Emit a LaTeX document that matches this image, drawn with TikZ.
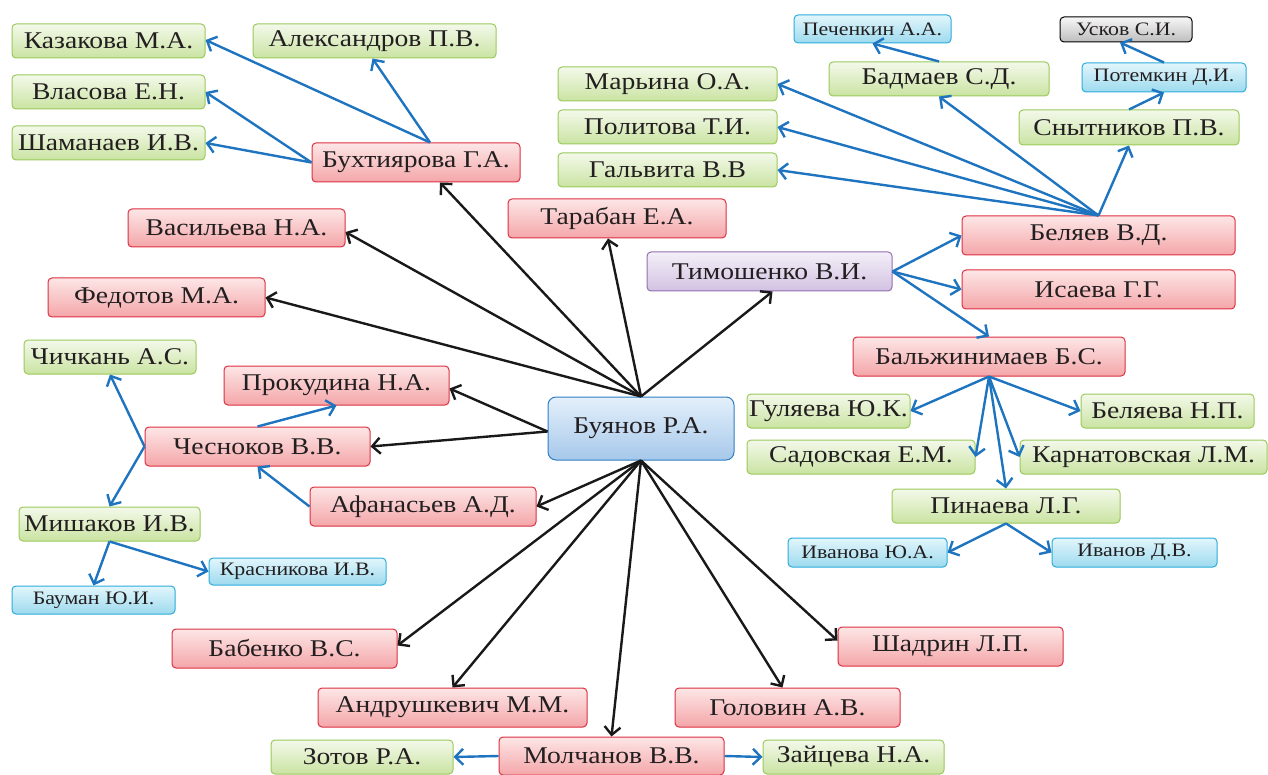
\documentclass[tikz,border=0pt]{standalone}
\usepackage{fontspec}
\setmainfont{Liberation Serif}[FakeStretch=1.15]
\usetikzlibrary{arrows.meta}
\definecolor{txt}{HTML}{231F20}
\definecolor{grnD}{HTML}{9BC95A}
\definecolor{grnT}{HTML}{F3F9EA}
\definecolor{grnB}{HTML}{CAE3A2}
\definecolor{redD}{HTML}{DC3040}
\definecolor{redT}{HTML}{FDE6E6}
\definecolor{redB}{HTML}{F4A6A9}
\definecolor{bluD}{HTML}{2F7EC4}
\definecolor{bluT}{HTML}{E4F0FB}
\definecolor{bluB}{HTML}{A6C8EA}
\definecolor{cyaD}{HTML}{2CACDA}
\definecolor{cyaT}{HTML}{E2F6FC}
\definecolor{cyaB}{HTML}{9DDAEE}
\definecolor{purD}{HTML}{9270B0}
\definecolor{purT}{HTML}{F4EFF8}
\definecolor{purB}{HTML}{D2C2E2}
\definecolor{gryT}{HTML}{F7F7F7}
\definecolor{gryB}{HTML}{BDBDBD}
\definecolor{lnk}{HTML}{1F74C0}
\newcommand\Bx[7]{\node[#1,minimum width={(#5-#3)*1pt},minimum height={(#6-#4)*1pt}] (#2) at ({(#3+#5)/2},{(#4+#6)/2}) {#7};}
\tikzset{
  box/.style={rounded corners=4pt, inner sep=0pt, line width=1pt, text=txt, font=\fontsize{24}{24}\selectfont},
  grn/.style={box, draw=grnD, top color=grnT, bottom color=grnB},
  rd/.style={box, draw=redD, top color=redT, bottom color=redB},
  bl/.style={box, draw=bluD, top color=bluT, bottom color=bluB, rounded corners=8pt},
  pu/.style={box, draw=purD, top color=purT, bottom color=purB},
  cy/.style={box, draw=cyaD, top color=cyaT, bottom color=cyaB, font=\fontsize{19}{19}\selectfont},
  gy/.style={box, draw=black, top color=gryT, bottom color=gryB, font=\fontsize{19}{19}\selectfont},
  blk/.style={line width=2.4pt, draw=black!90, -{Straight Barb[length=8pt,width=16pt,line width=2.4pt]}},
  blu/.style={line width=2.4pt, draw=lnk, -{Straight Barb[length=8pt,width=16pt,line width=2.4pt]}},
}
\begin{document}
\begin{tikzpicture}[x=1pt,y=-1pt]
\useasboundingbox (0,0) rectangle (1268,775);
% left top cluster
\Bx{grn}{kaz}{12}{24}{205}{58}{Казакова М.А.}
\Bx{grn}{alex}{253}{24}{496}{58}{Александров П.В.}
\Bx{grn}{vlas}{12}{75}{205}{109}{Власова Е.Н.}
\Bx{grn}{sham}{12}{126}{205}{160}{Шаманаев И.В.}
\Bx{rd}{bux}{312}{143}{520}{182}{Бухтиярова Г.А.}
\Bx{rd}{vas}{128}{209}{345}{247}{Васильева Н.А.}
\Bx{rd}{tar}{508}{199}{726}{238}{Тарабан Е.А.}
\Bx{rd}{fed}{48}{278}{265}{317}{Федотов М.А.}
\Bx{pu}{tim}{647}{252}{892}{291}{Тимошенко В.И.}
% left middle
\Bx{grn}{chich}{24}{340}{196}{374}{Чичкань А.С.}
\Bx{rd}{prok}{224}{366}{449}{405}{Прокудина Н.А.}
\Bx{rd}{ches}{145}{427}{370}{466}{Чесноков В.В.}
\Bx{bl}{buy}{548}{397}{734}{460}{Буянов Р.А.}
\Bx{rd}{afan}{310}{487}{536}{526}{Афанасьев А.Д.}
\Bx{grn}{mish}{19}{507}{200}{541}{Мишаков И.В.}
\Bx{cy}{kras}{209}{558}{386}{585}{Красникова И.В.}
\Bx{cy}{baum}{12}{586}{175}{614}{Бауман Ю.И.}
% bottom
\Bx{rd}{bab}{172}{629}{397}{668}{Бабенко В.С.}
\Bx{rd}{andr}{318}{688}{587}{727}{Андрушкевич М.М.}
\Bx{rd}{mol}{499}{737}{724}{775}{Молчанов В.В.}
\Bx{grn}{zot}{271}{740}{453}{774}{Зотов Р.А.}
\Bx{grn}{zay}{763}{740}{944}{774}{Зайцева Н.А.}
\Bx{rd}{gol}{675}{688}{900}{727}{Головин А.В.}
\Bx{rd}{shad}{838}{627}{1063}{666}{Шадрин Л.П.}
% right top
\Bx{cy}{pech}{794}{15}{951}{43}{Печенкин А.А.}
\Bx{gy}{usk}{1060}{17}{1192}{42}{Усков С.И.}
\Bx{grn}{badm}{829}{62}{1049}{96}{Бадмаев С.Д.}
\Bx{cy}{pot}{1082}{63}{1246}{92}{Потемкин Д.И.}
\Bx{grn}{mar}{558}{67}{777}{101}{Марьина О.А.}
\Bx{grn}{pol}{558}{110}{777}{144}{Политова Т.И.}
\Bx{grn}{snyt}{1019}{110}{1239}{145}{Снытников П.В.}
\Bx{grn}{gal}{558}{153}{777}{187}{Гальвита В.В}
\Bx{rd}{bel}{962}{216}{1235}{255}{Беляев В.Д.}
\Bx{rd}{isa}{962}{270}{1235}{309}{Исаева Г.Г.}
\Bx{rd}{balzh}{853}{337}{1125}{376}{Бальжинимаев Б.С.}
\Bx{grn}{gul}{747}{394}{910}{428}{Гуляева Ю.К.}
\Bx{grn}{belya}{1081}{394}{1254}{428}{Беляева Н.П.}
\Bx{grn}{sad}{747}{440}{975}{474}{Садовская Е.М.}
\Bx{grn}{kar}{1020}{440}{1267}{474}{Карнатовская Л.М.}
\Bx{grn}{pin}{892}{489}{1120}{523}{Пинаева Л.Г.}
\Bx{cy}{iva}{788}{538}{947}{567}{Иванова Ю.А.}
\Bx{cy}{ivd}{1052}{538}{1217}{567}{Иванов Д.В.}
% black connectors
\draw[blk] (buy.north) -- ([xshift=24pt]bux.south);
\draw[blk] (buy.north) -- ([yshift=-4pt]vas.east);
\draw[blk] (buy.north) -- ([xshift=-9pt]tar.south);
\draw[blk] (buy.north) -- (fed.east);
\draw[blk] (buy.north) -- ([xshift=3pt]tim.south);
\draw[blk] ([yshift=-3pt]buy.west) -- ([yshift=-3pt]prok.east);
\draw[blk] ([yshift=-3pt]buy.west) -- (ches.east);
\draw[blk] (buy.south) -- (afan.east);
\draw[blk] (buy.south) -- ([yshift=3pt]bab.east);
\draw[blk] (buy.south) -- (andr.north);
\draw[blk] (buy.south) -- (mol.north);
\draw[blk] (buy.south) -- ([xshift=-5pt]gol.north);
\draw[blk] (buy.south) -- ([yshift=6pt]shad.west);
% blue connectors
\draw[blu] ([xshift=14pt]bux.north) -- ([yshift=1pt]kaz.east);
\draw[blu] ([xshift=14pt]bux.north) -- ([xshift=-2pt]alex.south);
\draw[blu] (bux.west) -- (vlas.east);
\draw[blu] (bux.west) -- (sham.east);
\draw[blu] (bel.north) -- (mar.east);
\draw[blu] (bel.north) -- (pol.east);
\draw[blu] (bel.north) -- (gal.east);
\draw[blu] (bel.north) -- (badm.south);
\draw[blu] (bel.north) -- (snyt.south);
\draw[blu] (badm.north) -- (pech.south);
\draw[blu] (snyt.north) -- (pot.south);
\draw[blu] (pot.north) -- ([xshift=-6pt]usk.south);
\draw[blu] (tim.east) -- (bel.west);
\draw[blu] (tim.east) -- (isa.west);
\draw[blu] (tim.east) -- (balzh.north);
\draw[blu] (balzh.south) -- (gul.east);
\draw[blu] (balzh.south) -- (belya.west);
\draw[blu] (balzh.south) -- (sad.east);
\draw[blu] (balzh.south) -- (kar.west);
\draw[blu] (balzh.south) -- (pin.north);
\draw[blu] (pin.south) -- (iva.east);
\draw[blu] (pin.south) -- (ivd.west);
\draw[blu] (ches.north) -- (prok.south);
\draw[blu] (afan.west) -- (ches.south);
\draw[blu] (ches.west) -- (chich.south);
\draw[blu] (ches.west) -- (mish.north);
\draw[blu] (mish.south) -- (baum.north);
\draw[blu] (mish.south) -- (kras.west);
\draw[blu] (mol.west) -- (zot.east);
\draw[blu] (mol.east) -- (zay.west);
\end{tikzpicture}
\end{document}
